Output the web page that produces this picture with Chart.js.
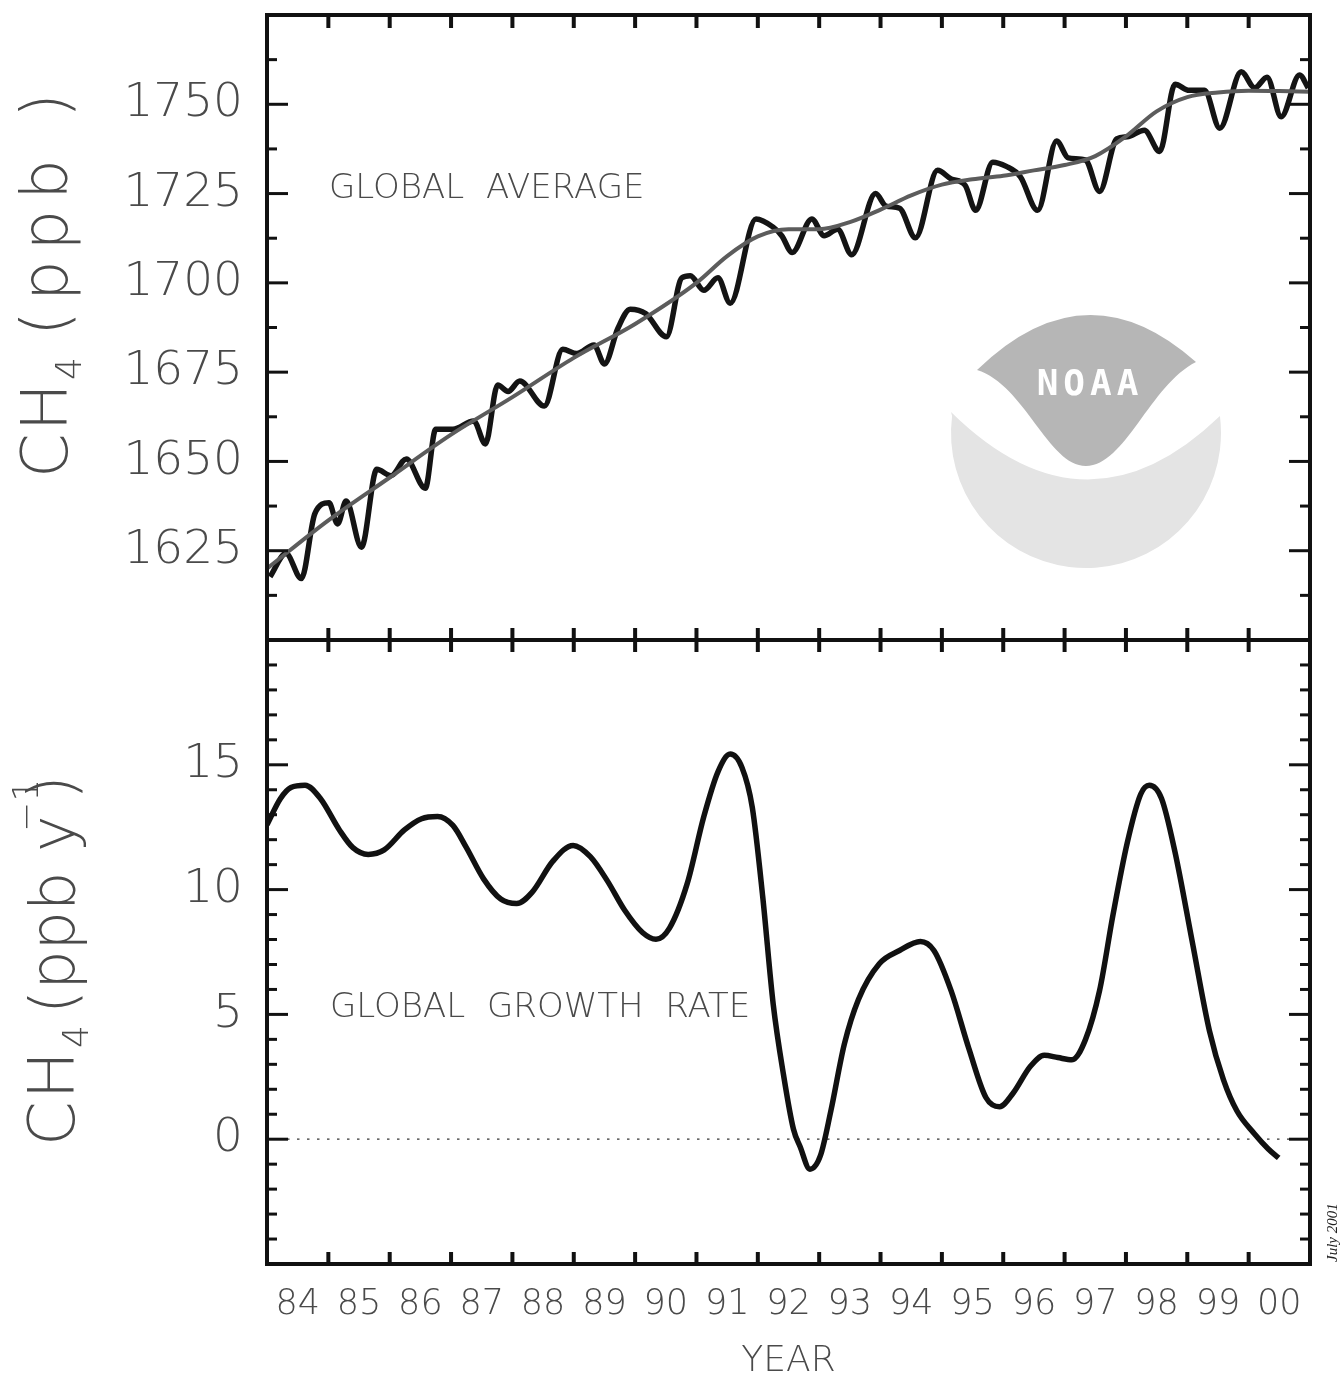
<!DOCTYPE html>
<html>
<head>
<meta charset="utf-8">
<script src="https://cdn.jsdelivr.net/npm/chart.js@4.4.1/dist/chart.umd.min.js"></script>
<style>
html,body{margin:0;padding:0;background:#fff;}
#wrap{position:relative;width:1340px;height:1376px;overflow:hidden;background:#fff;}
.box{position:absolute;left:0;width:1340px;}
</style>
</head>
<body>
<div id="wrap">
  <div class="box" style="top:0;height:660px;"><canvas id="cTop"></canvas></div>
  <div class="box" style="top:620px;height:756px;"><canvas id="cBot"></canvas></div>
</div>
<script>
// ---------------- DATA ----------------
// Monthly global average CH4 (ppb)
const monthlyYears = [1984.05,1984.31,1984.56,1984.78,1985.01,1985.15,1985.29,1985.54,1985.79,1986.02,
  1986.27,1986.58,1986.75,1987.03,1987.37,1987.56,1987.76,1987.93,1988.12,1988.52,
  1988.82,1989.05,1989.33,1989.50,1989.72,1989.92,1990.17,1990.51,1990.76,1990.90,
  1991.12,1991.35,1991.55,1991.97,1992.25,1992.39,1992.56,1992.88,1993.08,1993.30,
  1993.53,1993.92,1994.09,1994.31,1994.57,1994.93,1995.15,1995.38,1995.55,1995.83,
  1996.05,1996.28,1996.56,1996.87,1997.06,1997.34,1997.57,1997.85,1998.02,1998.30,
  1998.55,1998.80,1999.03,1999.28,1999.53,1999.88,2000.10,2000.30,2000.53,2000.83,2000.97];
const monthlyCH4 = [1617.7,1624.2,1617.2,1635.4,1638.4,1632.5,1638.9,1626.0,1647.8,1646.0,
  1650.7,1642.5,1659.0,1659.0,1661.3,1654.9,1671.4,1669.6,1672.5,1665.5,
  1681.4,1680.2,1682.6,1677.3,1687.3,1692.6,1691.4,1684.9,1701.4,1702.0,
  1697.9,1701.4,1694.3,1717.9,1715.6,1713.2,1708.5,1717.9,1713.2,1715.0,
  1707.9,1725.0,1721.5,1720.9,1712.6,1731.5,1729.1,1727.3,1720.3,1733.8,
  1732.6,1729.7,1720.3,1739.7,1735.0,1734.4,1725.6,1740.3,1740.9,1742.7,
  1736.8,1755.6,1753.9,1753.9,1743.3,1759.1,1754.6,1757.6,1746.5,1758.2,1754.6];
// Smoothed trend (ppb)
const trendYears = [1984.0,1985.0,1986.0,1987.0,1988.0,1989.0,1990.0,1991.0,1991.5,1992.0,
  1992.5,1993.0,1993.5,1994.0,1994.5,1995.0,1995.5,1996.0,1996.5,1997.0,
  1997.5,1998.0,1998.5,1999.0,1999.5,2000.0,2000.5,2001.0];
const trendCH4 = [1620.0,1633.5,1645.5,1657.5,1668.0,1679.0,1688.5,1700.0,1707.5,1713.0,
  1715.0,1715.0,1717.0,1720.5,1724.5,1727.5,1729.0,1730.0,1731.5,1733.0,
  1735.5,1741.0,1748.0,1752.0,1753.3,1753.8,1753.7,1753.5];
// Global growth rate (ppb / yr)
const growthYears = [1984.00,1984.22,1984.39,1984.62,1984.87,1985.18,1985.40,1985.65,1985.91,1986.24,
  1986.52,1986.78,1987.03,1987.25,1987.53,1987.81,1988.07,1988.32,1988.66,1988.99,
  1989.27,1989.55,1989.83,1990.12,1990.34,1990.56,1990.85,1991.12,1991.35,1991.55,
  1991.74,1991.91,1992.08,1992.25,1992.42,1992.58,1992.69,1992.85,1993.02,1993.19,
  1993.41,1993.64,1993.98,1994.31,1994.65,1994.87,1995.15,1995.44,1995.72,1995.94,
  1996.16,1996.44,1996.67,1996.89,1997.12,1997.34,1997.57,1997.79,1998.02,1998.24,
  1998.38,1998.58,1998.80,1999.08,1999.36,1999.59,1999.81,2000.09,2000.32,2000.49];
const growthRate = [12.6,13.65,14.09,14.18,13.65,12.39,11.68,11.41,11.59,12.39,
  12.84,12.93,12.57,11.68,10.43,9.62,9.44,9.89,11.14,11.77,
  11.32,10.34,9.17,8.28,8.01,8.46,10.25,12.93,14.72,15.43,
  14.90,13.29,9.71,5.42,2.56,0.41,-0.30,-1.20,-0.66,1.13,
  3.81,5.60,7.03,7.56,7.92,7.56,5.95,3.63,1.66,1.30,
  1.84,2.91,3.36,3.27,3.18,3.99,5.95,9.00,11.86,13.82,
  14.18,13.65,11.50,7.92,4.35,2.38,1.13,0.23,-0.39,-0.75];
const zeroLineYears = [1984, 2001];
const zeroLineValues = [0, 0];

// Tick labels
const ch4TickValues = [1625, 1650, 1675, 1700, 1725, 1750];
const ch4TickLabels = ['1625', '1650', '1675', '1700', '1725', '1750'];
const ch4MinorTicks = [1600, 1612.5, 1625, 1637.5, 1650, 1662.5, 1675, 1687.5, 1700, 1712.5, 1725, 1737.5, 1750, 1762.5, 1775];
const rateTickValues = [0, 5, 10, 15];
const rateTickLabels = ['0', '5', '10', '15'];
const rateMinorTicks = [-5,-4,-3,-2,-1,0,1,2,3,4,5,6,7,8,9,10,11,12,13,14,15,16,17,18,19,20];
const yearTicks = [1984,1985,1986,1987,1988,1989,1990,1991,1992,1993,1994,1995,1996,1997,1998,1999,2000,2001];
const yearLabelPos = [1984.5,1985.5,1986.5,1987.5,1988.5,1989.5,1990.5,1991.5,1992.5,1993.5,1994.5,1995.5,1996.5,1997.5,1998.5,1999.5,2000.5];
const yearLabels = ['84','85','86','87','88','89','90','91','92','93','94','95','96','97','98','99','00'];

// ---------------- STYLE ----------------
const FAM = "'DejaVu Sans'";
const TXT = '#4a4a4a';

function pts(xs, ys) { return xs.map((x, i) => ({x: x, y: ys[i]})); }

const frameTicks = {
  id: 'frameTicks',
  afterDatasetsDraw(chart, args, opts) {
    const ctx = chart.ctx, a = chart.chartArea, x = chart.scales.x, y = chart.scales.y;
    const ln = (x1, y1, x2, y2) => { ctx.beginPath(); ctx.moveTo(x1, y1); ctx.lineTo(x2, y2); ctx.stroke(); };
    ctx.save();
    ctx.strokeStyle = '#111';
    ctx.lineWidth = 3;
    y.ticks.forEach(t => {
      const py = y.getPixelForValue(t.value);
      if (py <= a.top + 3 || py >= a.bottom - 3) return;
      const len = opts.yMajor.includes(t.value) ? 21 : 10;
      ln(a.left, py, a.left + len, py);
      ln(a.right, py, a.right - len, py);
    });
    ctx.lineWidth = 4;
    yearTicks.forEach(v => {
      const px = x.getPixelForValue(v);
      if (px <= a.left + 3 || px >= a.right - 3) return;
      if (opts.topTicks === 'in') ln(px, a.top, px, a.top + 13);
      if (opts.bottomTicks === 'cross') ln(px, a.bottom - 12, px, a.bottom + 12);
      if (opts.bottomTicks === 'in') ln(px, a.bottom, px, a.bottom - 12);
    });
    ctx.lineWidth = 4;
    ctx.strokeRect(a.left, a.top, a.right - a.left, a.bottom - a.top);
    ctx.restore();
  }
};

// rotated title; each part placed at an explicit distance (px, measured upward) from the start
function drawRotated(ctx, xBase, yStart, parts) {
  ctx.save();
  ctx.translate(xBase, yStart);
  ctx.rotate(-Math.PI / 2);
  ctx.fillStyle = TXT;
  ctx.textBaseline = 'alphabetic';
  ctx.textAlign = 'left';
  parts.forEach(p => {
    ctx.font = '200 ' + p.size + 'px ' + FAM;
    try { ctx.letterSpacing = (p.ls || 0) + 'px'; } catch (e) {}
    ctx.fillText(p.text, p.at, p.dy || 0);
  });
  ctx.restore();
}

function fixPad(s) { s.paddingTop = 0; s.paddingBottom = 0; s.paddingLeft = 0; s.paddingRight = 0; }

const decoTop = {
  id: 'decoTop',
  beforeDatasetsDraw(chart) {
    const ctx = chart.ctx;
    ctx.save();
    // NOAA emblem (watermark)
    ctx.fillStyle = '#e4e4e4';
    ctx.beginPath();
    ctx.arc(1086, 433, 135, Math.PI * 1.04, Math.PI * 1.96, true);
    ctx.quadraticCurveTo(1086, 545, 951, 412);
    ctx.closePath(); ctx.fill();
    ctx.fillStyle = '#b6b6b6';
    ctx.beginPath();
    ctx.moveTo(977, 370);
    ctx.quadraticCurveTo(1086, 264, 1196, 362);
    ctx.bezierCurveTo(1150, 385, 1125, 466, 1086, 466);
    ctx.bezierCurveTo(1048, 466, 1025, 385, 977, 370);
    ctx.closePath(); ctx.fill();
    ctx.fillStyle = '#ffffff';
    ctx.font = "bold 36px 'DejaVu Sans Mono'";
    try { ctx.letterSpacing = '5px'; } catch (e) {}
    ctx.textAlign = 'center'; ctx.textBaseline = 'middle';
    ctx.fillText('NOAA', 1090, 386);
    ctx.restore();
  },
  afterDraw(chart) {
    const ctx = chart.ctx;
    ctx.save();
    ctx.fillStyle = TXT;
    ctx.font = '200 34px ' + FAM;
    try { ctx.letterSpacing = '0px'; } catch (e) {}
    ctx.textBaseline = 'alphabetic'; ctx.textAlign = 'left';
    ctx.fillText('GLOBAL  AVERAGE', 329, 198);
    ctx.restore();
    drawRotated(ctx, 67, 478, [
      {text: 'CH', size: 64, at: 0, ls: 2},
      {text: '4', size: 36, dy: 14, at: 98},
      {text: '(ppb', size: 64, at: 142, ls: 10},
      {text: ')', size: 64, at: 360}
    ]);
  }
};

const decoBot = {
  id: 'decoBot',
  afterDraw(chart) {
    const ctx = chart.ctx;
    ctx.save();
    ctx.fillStyle = TXT;
    ctx.font = '200 34px ' + FAM;
    try { ctx.letterSpacing = '0px'; } catch (e) {}
    ctx.textBaseline = 'alphabetic'; ctx.textAlign = 'left';
    ctx.fillText('GLOBAL  GROWTH  RATE', 330, 1017 - 620);
    ctx.restore();
    drawRotated(ctx, 74, 1146 - 620, [
      {text: 'CH', size: 64, at: 0, ls: 2},
      {text: '4', size: 36, dy: 14, at: 98},
      {text: '(ppb y', size: 62, at: 132, ls: 0},
      {text: '\u22121', size: 36, dy: -36, at: 314},
      {text: ')', size: 64, at: 346}
    ]);
    ctx.save();
    ctx.translate(1337, 1262 - 620);
    ctx.rotate(-Math.PI / 2);
    ctx.fillStyle = '#222';
    ctx.font = "italic 15px 'Liberation Serif'";
    ctx.textAlign = 'left'; ctx.textBaseline = 'alphabetic';
    ctx.fillText('July 2001', 0, 0);
    ctx.restore();
  }
};

const common = {
  animation: false,
  responsive: true,
  maintainAspectRatio: false,
  devicePixelRatio: 1,
  events: [],
  elements: { point: { radius: 0 } }
};

// ---------------- TOP CHART ----------------
new Chart(document.getElementById('cTop'), {
  type: 'line',
  data: {
    datasets: [
      { label: 'Global average (monthly)', data: pts(monthlyYears, monthlyCH4), borderColor: '#141414',
        borderWidth: 5.5, cubicInterpolationMode: 'monotone', pointRadius: 0, order: 1 },
      { label: 'Trend', data: pts(trendYears, trendCH4), borderColor: '#5c5c5c',
        borderWidth: 4, cubicInterpolationMode: 'monotone', pointRadius: 0, order: 0 }
    ]
  },
  options: Object.assign({}, common, {
    layout: { padding: { top: 15, right: 30, bottom: 20, left: 0 } },
    plugins: { legend: { display: false }, tooltip: { enabled: false },
      frameTicks: { yMajor: ch4TickValues, topTicks: 'in', bottomTicks: 'cross' } },
    scales: {
      x: { type: 'linear', min: 1984, max: 2001, display: false },
      y: { type: 'linear', min: 1600, max: 1775,
        afterFit: s => { s.width = 267; fixPad(s); },
        afterBuildTicks: s => { s.ticks = ch4MinorTicks.map(v => ({ value: v })); },
        grid: { display: false, drawTicks: false }, border: { display: false },
        ticks: { autoSkip: false, padding: 24, color: TXT,
          font: { family: FAM, size: 47, weight: 200 },
          callback: v => { const i = ch4TickValues.indexOf(v); return i >= 0 ? ch4TickLabels[i] : ''; } }
      }
    }
  }),
  plugins: [decoTop, frameTicks]
});

// ---------------- BOTTOM CHART ----------------
new Chart(document.getElementById('cBot'), {
  type: 'line',
  data: {
    datasets: [
      { label: 'Global growth rate', data: pts(growthYears, growthRate), borderColor: '#111',
        borderWidth: 5.5, cubicInterpolationMode: 'monotone', pointRadius: 0, order: 0 },
      { label: 'Zero', data: pts(zeroLineYears, zeroLineValues), borderColor: '#333',
        borderWidth: 1.3, borderDash: [2.5, 7.5], pointRadius: 0, order: 1 }
    ]
  },
  options: Object.assign({}, common, {
    layout: { padding: { top: 20, right: 30, bottom: 0, left: 0 } },
    plugins: { legend: { display: false }, tooltip: { enabled: false },
      frameTicks: { yMajor: rateTickValues, topTicks: 'none', bottomTicks: 'in' } },
    scales: {
      x: { type: 'linear', min: 1984, max: 2001,
        afterFit: s => { s.height = 112; fixPad(s); },
        afterBuildTicks: s => { s.ticks = yearLabelPos.map(v => ({ value: v })); },
        grid: { display: false, drawTicks: false }, border: { display: false },
        ticks: { autoSkip: false, maxRotation: 0, padding: 20, color: TXT,
          font: { family: FAM, size: 35, weight: 200 },
          callback: (v, i) => yearLabels[i] },
        title: { display: true, text: 'YEAR', color: TXT, padding: { top: 0, bottom: -4 },
          font: { family: FAM, size: 36, weight: 200, lineHeight: 1 } }
      },
      y: { type: 'linear', min: -5, max: 20,
        afterFit: s => { s.width = 267; fixPad(s); },
        afterBuildTicks: s => { s.ticks = rateMinorTicks.map(v => ({ value: v })); },
        grid: { display: false, drawTicks: false }, border: { display: false },
        ticks: { autoSkip: false, padding: 24, color: TXT,
          font: { family: FAM, size: 47, weight: 200 },
          callback: v => { const i = rateTickValues.indexOf(v); return i >= 0 ? rateTickLabels[i] : ''; } }
      }
    }
  }),
  plugins: [decoBot, frameTicks]
});
</script>
</body>
</html>
